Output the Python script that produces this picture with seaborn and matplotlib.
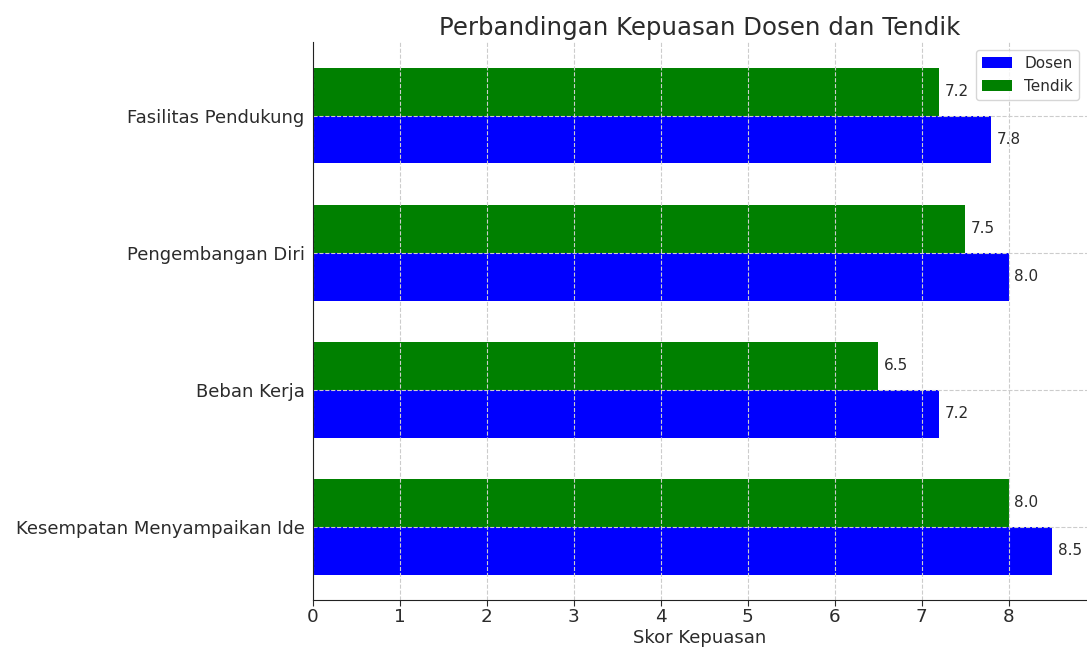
import pandas as pd
import matplotlib
matplotlib.use("Agg")
import matplotlib.pyplot as plt
import seaborn as sns

categories = ["Fasilitas Pendukung", "Pengembangan Diri", "Beban Kerja", "Kesempatan Menyampaikan Ide"]
dosen = [7.8, 8.0, 7.2, 8.5]
tendik = [7.2, 7.5, 6.5, 8.0]

df = pd.DataFrame({
    "Aspek": categories * 2,
    "Skor": dosen + tendik,
    "Kelompok": ["Dosen"] * len(categories) + ["Tendik"] * len(categories),
})

text_color = "#2b2b2b"
plt.rcParams["text.color"] = text_color
plt.rcParams["axes.labelcolor"] = text_color
plt.rcParams["xtick.color"] = text_color
plt.rcParams["ytick.color"] = text_color

fig = plt.figure(figsize=(10.87, 6.49), dpi=100)
ax = fig.add_axes([0.288, 0.0755, 0.712, 0.8595])

sns.barplot(data=df, y="Aspek", x="Skor", hue="Kelompok", order=categories,
            hue_order=["Tendik", "Dosen"], palette={"Dosen": "blue", "Tendik": "green"},
            orient="h", width=0.7, saturation=1, linewidth=0, ax=ax)

for cont in ax.containers:
    ax.bar_label(cont, fmt="%.1f", padding=4, fontsize=11, color=text_color)

ax.set_xlim(0, 8.9)
ax.set_ylim(3.535, -0.535)
ax.set_xticks(range(0, 9))
ax.grid(True, linestyle="--", color="#cccccc", linewidth=0.8)
ax.set_axisbelow(False)
ax.tick_params(axis="x", labelsize=13.2, length=4, pad=2)
ax.tick_params(axis="y", labelsize=13, length=0, pad=6)
for s in ["top", "right"]:
    ax.spines[s].set_visible(False)
for s in ["left", "bottom"]:
    ax.spines[s].set_color("#222222")
    ax.spines[s].set_zorder(5)

ax.set_title("Perbandingan Kepuasan Dosen dan Tendik", fontsize=17.6, color=text_color, pad=5)
ax.set_xlabel("Skor Kepuasan", fontsize=13, labelpad=2)
ax.set_ylabel("")

handles, labels = ax.get_legend_handles_labels()
order = [labels.index("Dosen"), labels.index("Tendik")]
ax.legend([handles[i] for i in order], [labels[i] for i in order], loc="upper right",
          fontsize=11, frameon=True)

fig.savefig("out.png", dpi=100)
